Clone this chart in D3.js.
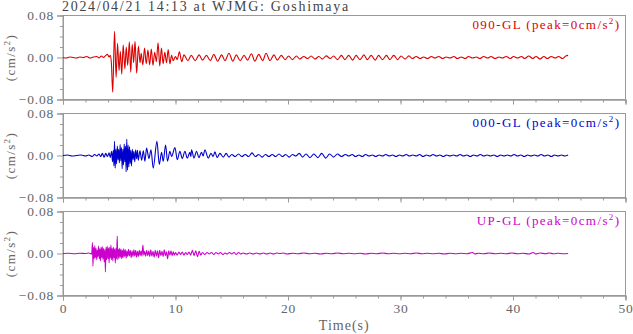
<!DOCTYPE html>
<html>
<head>
<meta charset="utf-8">
<script src="https://cdn.jsdelivr.net/npm/d3@7"></script>
<style>
body { margin: 0; background: #fff; }
svg { display: block; font-family: "Liberation Serif", "DejaVu Serif", serif; }
</style>
</head>
<body>
<div id="chart"></div>
<script>
const title = '2024/04/21 14:13 at WJMG: Goshimaya'
const components = ['090-GL', '000-GL', 'UP-GL']
const peaks = [0, 0, 0]
const colors = ['#dc0000', '#0000cc', '#cc00cc']
const timeTicks = [0, 10, 20, 30, 40, 50]
const accTicks = [-0.08, 0.00, 0.08]

// [time (s), acceleration (cm/s2)], peak to peak
const ew = [[0,0],[0.3,-0.001],[0.6,0.001],[0.9,0],[1.2,-0.001],[1.5,0.001],[1.8,0],[2.1,0.002],[2.4,-0.001],[2.7,0.001],[3.0,0.002],[3.2,-0.001],[3.4,0.003],[3.6,0],[3.8,0.004],[3.95,0.006],[4.1,0.001],[4.2,0.004],[4.3,-0.01],
  [4.42,-0.066],[4.58,0.05],[4.72,-0.038],[4.85,0.027],[4.98,-0.025],[5.1,0.012],[5.22,-0.032],[5.35,0.024],[5.5,-0.022],[5.62,0.02],[5.75,-0.015],[5.9,0.03],[6.02,-0.028],[6.15,0.025],[6.28,-0.01],[6.4,0.031],[6.55,-0.03],[6.7,0.022],[6.85,-0.01],[6.95,0.008],[7.1,-0.014],[7.25,0.018],[7.4,-0.012],[7.55,0.014],[7.7,-0.014],[7.85,0.016],[8.0,-0.015],[8.15,0.01],[8.3,-0.008],[8.45,0.028],[8.6,-0.016],[8.75,0.018],[8.9,-0.012],[9.05,0.01],[9.2,-0.01],[9.35,0.015],[9.5,-0.012],[9.65,0.004],[9.8,-0.006],[10.0,0.002],[10.15,-0.004],[10.35,0.011],[10.55,-0.008],
  [10.75,0.005],[11.1,-0.006],[11.4,0.004],[11.75,-0.006],[12.1,0.005],[12.4,-0.005],[12.75,0.004],[13.1,-0.006],[13.4,0.006],[13.75,-0.007],[14.1,0.005],[14.4,-0.006],[14.75,0.008],[15.1,-0.007],[15.4,0.005],[15.75,-0.006],[16.1,0.004],[16.4,-0.005],[16.75,0.007],[17.05,-0.007],[17.4,0.006],[17.75,-0.006],[18.05,0.008],[18.4,-0.006],[18.75,0.005],[19.05,-0.005],[19.4,0.004],[19.75,-0.004],[20.05,0.003],[20.4,-0.004],[20.75,0.003],[21.05,-0.003],[21.4,0.002],[21.75,-0.002],[22.05,0.003],[22.4,-0.003],[22.75,0.002],[23.05,-0.003],[23.4,0.003],[23.75,-0.002],[24.05,0.003],[24.4,-0.004],[24.75,0.004],[25.05,-0.004],[25.4,0.004],[25.75,-0.005],[26.05,0.004],[26.4,-0.004],[26.75,0.005],[27.05,-0.004],[27.4,0.004],[27.75,-0.005],[28.05,0.004],[28.4,-0.004],[28.75,0.004],[29.05,-0.004],[29.4,0.004],[29.75,-0.004],[30.05,0.003],[30.4,-0.003],[30.75,0.003],[31.05,-0.002],[31.4,0.002],[31.75,-0.002],[32.05,0.001],[32.4,-0.002],[32.75,0.002],[33.05,-0.001],[33.4,0.002],[33.75,-0.002],[34.05,0.001],[34.4,-0.001],[34.75,0.002],[35.05,-0.002],[35.4,0.001],[35.75,-0.002],[36.05,0.002],[36.4,-0.001],[36.75,0.001],[37.05,-0.002],[37.4,0.002],[37.75,-0.001],[38.05,0.002],[38.4,-0.002],[38.75,0.001],[39.05,-0.001],[39.4,0.002],[39.75,-0.002],[40.05,0.002],[40.4,-0.001],[40.75,0.002],[41.05,-0.002],[41.4,0.003],[41.75,-0.002],[42.05,0.002],[42.4,-0.003],[42.75,0.002],[43.05,-0.002],[43.4,0.002],[43.75,-0.001],[44.05,0.002],[44.4,-0.002],[44.7,0.003],[44.9,0.004]]

const ns = [[0,0],[0.4,0.001],[0.8,-0.001],[1.2,0],[1.6,0.001],[2.0,-0.001],[2.3,0.001],[2.6,-0.002],[2.8,0.002],[3.0,-0.001],[3.2,0.003],[3.35,-0.002],[3.5,0.004],[3.65,-0.003],[3.8,0.004],[3.95,-0.002],[4.1,0.005],[4.2,-0.004],[4.32,0.008],
  [4.4,-0.012],[4.47,0.01],[4.53,-0.02],[4.58,0.027],[4.64,-0.024],[4.7,0.012],[4.76,-0.016],[4.83,0.018],[4.89,-0.008],[4.95,0.012],[5.01,-0.014],[5.08,0.021],[5.14,-0.01],[5.2,0.015],[5.26,-0.025],[5.32,0.012],[5.38,-0.018],[5.44,0.022],[5.5,-0.012],[5.56,0.018],[5.61,-0.031],[5.67,0.031],[5.73,-0.028],[5.79,0.02],[5.85,-0.022],[5.91,0.017],[5.97,-0.015],[6.03,0.01],[6.09,-0.02],[6.16,0.012],[6.23,-0.008],[6.3,0.008],[6.38,-0.012],[6.46,0.011],[6.54,-0.006],[6.62,0.01],[6.69,-0.009],[6.84,0.009],[6.99,-0.009],[7.14,0.009],[7.28,-0.011],[7.43,0.014],[7.64,-0.006],[7.82,0.011],[8.02,-0.024],[8.35,0.027],[8.56,-0.017],[8.76,0.006],[8.91,-0.011],[9.12,0.02],[9.29,-0.011],[9.5,0.008],[9.65,-0.002],[9.95,0.015],[10.16,-0.008],[10.39,0.008],[10.6,-0.006],[10.84,0.008],[11.04,-0.005],[11.28,0.006],[11.36,-0.002],[11.43,0.011],[11.64,-0.005],[11.87,0.008],[12.08,-0.004],[12.31,0.006],[12.46,-0.001],[12.61,0.011],[12.91,-0.005],
  [13.15,0.004],[13.35,-0.002],[13.5,0.007],[13.7,-0.004],[13.95,0.004],[14.25,-0.003],[14.5,0.004],[14.75,-0.003],[15.0,0.002],[15.3,-0.002],[15.6,0.003],[15.9,-0.002],[16.2,0.002],[16.5,-0.002],[16.8,0.005],[17.1,-0.002],[17.4,0.002],[17.7,-0.003],[18.0,0.002],[18.3,-0.002],[18.6,0.002],[18.9,-0.002],[19.2,0.003],[19.5,-0.002],[19.8,0.002],[20.1,-0.003],[20.4,0.002],[20.7,-0.001],[21.0,0.004],[21.3,-0.003],[21.6,0.003],[21.95,-0.004],[22.3,0.003],[22.65,-0.004],[23.0,0.004],[23.35,-0.005],[23.7,0.003],[24.05,-0.003],[24.4,0.003],[24.75,-0.002],[25.1,0.002],[25.4,-0.001],[25.7,0.002],[26.0,-0.002],[26.3,0.001],[26.6,-0.002],[26.9,0.002],[27.2,-0.001],[27.5,0.001],[27.8,-0.002],[28.1,0.001],[28.4,-0.001],[28.7,0.002],[29.0,-0.001],[29.3,0.001],[29.6,-0.002],[29.9,0.001],[30.2,-0.001],[30.5,0.002],[30.8,-0.001],[31.1,0.001],[31.4,-0.001],[31.7,0.002],[32.0,-0.002],[32.3,0.001],[32.6,-0.001],[32.9,0.002],[33.2,-0.001],[33.5,0.001],[33.8,-0.002],[34.1,0.001],[34.4,-0.001],[34.7,0.001],[35.0,-0.001],[35.3,0.002],[35.6,-0.001],[35.9,0.001],[36.2,-0.002],[36.5,0.001],[36.8,-0.001],[37.1,0.002],[37.4,-0.001],[37.7,0.001],[38.0,-0.001],[38.3,0.001],[38.6,-0.002],[38.9,0.001],[39.2,-0.001],[39.5,0.001],[39.8,-0.001],[40.1,0.002],[40.4,-0.001],[40.7,0.001],[41.0,-0.002],[41.3,0.001],[41.6,-0.001],[41.9,0.001],[42.2,-0.001],[42.5,0.002],[42.8,-0.001],[43.1,0.001],[43.4,-0.002],[43.7,0.001],[44.0,-0.001],[44.3,0.001],[44.6,-0.001],[44.9,0.001]]

const ud = [[0,0],[0.5,0.0005],[1.0,-0.0005],[1.5,0.0005],[2.0,0],[2.3,0.001],[2.55,-0.001],
  [2.62,0.021],[2.66,-0.024],[2.72,0.012],[2.78,-0.01],[2.83,0.015],[2.88,-0.008],[2.94,0.01],[3.0,-0.012],[3.05,0.006],[3.1,-0.006],[3.16,0.014],[3.22,-0.01],[3.27,0.009],[3.32,-0.014],[3.38,0.012],[3.43,-0.008],[3.49,0.013],[3.54,-0.011],[3.6,0.01],[3.66,-0.016],[3.72,0.008],[3.77,-0.035],[3.82,0.012],[3.88,-0.012],[3.93,0.014],[3.99,-0.01],[4.04,0.011],[4.1,-0.018],[4.15,0.012],[4.21,-0.009],[4.26,0.016],[4.32,-0.012],[4.37,0.01],[4.43,-0.014],[4.48,0.012],[4.54,-0.008],[4.6,0.009],[4.65,-0.018],[4.71,0.01],[4.76,-0.01],[4.82,0.033],[4.87,-0.012],[4.93,0.008],[4.98,-0.009],[5.04,0.01],[5.1,-0.007],[5.16,0.008],[5.22,-0.01],[5.28,0.006],[5.34,-0.008],[5.4,0.009],[5.47,-0.006],[5.54,0.007],[5.61,-0.009],[5.68,0.005],[5.75,-0.006],[5.83,0.008],[5.9,-0.005],[5.98,0.006],[6.06,-0.008],[6.14,0.005],[6.22,-0.006],[6.3,0.007],[6.38,-0.005],[6.46,0.006],[6.54,-0.007],[6.62,0.004],[6.7,-0.006],[6.78,0.006],[6.86,-0.004],[6.94,0.005],[7.02,-0.005],[7.1,0.016],[7.18,-0.003],[7.26,0.004],[7.35,-0.005],[7.44,0.006],[7.53,-0.004],[7.62,0.005],[7.71,-0.006],[7.8,0.007],[7.9,-0.005],[8.0,0.004],[8.1,-0.007],[8.2,0.006],[8.3,-0.005],[8.4,0.005],[8.5,-0.008],[8.6,0.006],[8.7,-0.004],[8.8,0.004],[8.9,-0.006],[9.0,0.007],[9.1,-0.004],[9.2,0.003],[9.3,-0.01],[9.4,0.005],[9.5,-0.003],[9.6,0.005],[9.7,-0.004],[9.8,0.003],[9.9,-0.003],[10.0,0.002],[10.15,-0.003],[10.3,0.003],[10.45,-0.002],[10.6,0.003],[10.75,-0.003],[10.9,0.002],[11.05,-0.002],[11.2,0.003],[11.35,-0.003],[11.5,0.006],[11.65,-0.004],[11.8,0.005],[11.95,-0.006],[12.1,0.004],[12.25,-0.003],[12.4,0.002],[12.6,-0.002],[12.8,0.002],[13.0,-0.001],[13.2,0.002],[13.4,-0.002],[13.6,0.002],[13.8,-0.001],[14.0,0.002],[14.2,-0.002],[14.4,0.001],[14.6,-0.001],[14.8,0.002],[15.0,-0.001],[15.2,0.002],[15.4,-0.002],[15.6,0.002],[15.8,-0.001],[16.0,0.001],[16.3,-0.001],[16.6,0.001],[16.9,-0.001],[17.2,0.001],[17.5,-0.001],[17.8,0.001],[18.1,-0.001],[18.4,0.001],[18.7,-0.001],[19.0,0.001],[19.3,0],[19.6,0.001],[19.9,-0.001],
  [20.4,0.0005],[20.9,-0.0005],[21.4,0.001],[21.9,-0.0005],[22.4,0.0005],[22.9,-0.001],[23.4,0.0005],[23.9,-0.0005],[24.4,0.001],[24.9,-0.0005],[25.4,0.0005],[25.9,-0.0005],[26.4,0.0005],[26.9,-0.001],[27.4,0.0005],[27.9,-0.0005],[28.4,0.001],[28.9,-0.0005],[29.4,0.0005],[29.9,-0.0005],[30.4,0.0005],[30.9,-0.0005],[31.4,0.001],[31.9,-0.0005],[32.4,0.0005],[32.9,-0.0005],[33.4,0.0005],[33.9,-0.001],[34.4,0.0005],[34.9,-0.0005],[35.4,0.0005],[35.9,-0.0005],[36.4,0.002],[36.6,-0.001],[36.9,0.0005],[37.4,-0.0005],[37.9,0.001],[38.4,-0.0005],[38.9,0.0005],[39.4,-0.0005],[39.9,0.001],[40.4,-0.0005],[40.9,0.0005],[41.4,-0.001],[41.8,0.002],[42.0,-0.001],[42.4,0.001],[42.9,-0.0005],[43.2,0.001],[43.6,-0.0005],[44.0,0.0005],[44.5,-0.0005],[44.9,0]]

const traces = [ew, ns, ud]

const width = 633
const height = 334
const margin = { left: 63, right: 7.5 }
const panelTop = 15.5
const panelH = 84
const panelStep = 98
const spacing = '1.4px'

const svg = d3.select('#chart')
  .append('svg')
  .attr('width', width)
  .attr('height', height)

const x = d3.scaleLinear()
  .domain([0, 50])
  .range([margin.left, width - margin.right])

svg.append('text')
  .attr('x', margin.left - 1)
  .attr('y', 11)
  .attr('fill', '#444')
  .style('font-size', '14px')
  .style('letter-spacing', '1.7px')
  .text(title)

traces.forEach((data, i) => {
  const top = panelTop + i * panelStep
  const y = d3.scaleLinear()
    .domain([-0.08, 0.08])
    .range([top + panelH, top])

  const g = svg.append('g')

  // frame
  g.append('rect')
    .attr('x', x(0))
    .attr('y', top)
    .attr('width', x(50) - x(0))
    .attr('height', panelH)
    .attr('fill', 'none')
    .attr('stroke', '#999')
    .attr('stroke-width', 1)

  // minor + major ticks on the bottom
  const bottomMinor = d3.axisBottom(x).tickValues(d3.range(0, 51, 2)).tickSize(3).tickFormat('')
  const bottomMajor = d3.axisBottom(x).tickValues(timeTicks).tickSize(5)
    .tickFormat(i == 2 ? d3.format('d') : '')
  g.append('g').attr('transform', `translate(0,${top + panelH})`).call(bottomMinor)
  g.append('g').attr('transform', `translate(0,${top + panelH})`).call(bottomMajor)

  const leftMinor = d3.axisLeft(y).tickValues([-0.06, -0.04, -0.02, 0.02, 0.04, 0.06]).tickSize(3).tickFormat('')
  const leftMajor = d3.axisLeft(y).tickValues(accTicks).tickSize(6).tickFormat(d3.format('.2f'))
  g.append('g').attr('transform', `translate(${x(0)},0)`).call(leftMinor)
  g.append('g').attr('transform', `translate(${x(0)},0)`).call(leftMajor)

  g.selectAll('.domain').attr('stroke', '#999')
  g.selectAll('.tick line').attr('stroke', '#999')
  g.selectAll('.tick text')
    .attr('fill', '#666')
    .style('font-family', '"Liberation Serif", serif')
    .style('font-size', '13.5px')
    .style('letter-spacing', '0.8px')

  // trace
  const line = d3.line()
    .x(d => x(d[0]))
    .y(d => y(d[1]))
    .curve(d3.curveMonotoneX)

  g.append('path')
    .datum(data)
    .attr('d', line)
    .attr('fill', 'none')
    .attr('stroke', colors[i])
    .attr('stroke-width', 1.1)
    .attr('stroke-linejoin', 'round')

  // component label
  const lab = g.append('text')
    .attr('x', x(50) - 5)
    .attr('y', top + 13)
    .attr('text-anchor', 'end')
    .attr('fill', colors[i])
    .style('font-size', '13px')
    .style('letter-spacing', spacing)
  lab.append('tspan').text(`${components[i]} (peak=${peaks[i]}cm/s`)
  lab.append('tspan').attr('dy', -5).style('font-size', '9px').text('2')
  lab.append('tspan').attr('dy', 5).text(')')

  // y label
  const yl = g.append('text')
    .attr('transform', `translate(15,${top + panelH / 2}) rotate(-90)`)
    .attr('text-anchor', 'middle')
    .attr('fill', '#666')
    .style('font-size', '13px')
    .style('letter-spacing', spacing)
  yl.append('tspan').text('(cm/s')
  yl.append('tspan').attr('dy', -5).style('font-size', '9px').text('2')
  yl.append('tspan').attr('dy', 5).text(')')
})

svg.append('text')
  .attr('x', (x(0) + x(50)) / 2)
  .attr('y', 330)
  .attr('text-anchor', 'middle')
  .attr('fill', '#666')
  .style('font-size', '14px')
  .style('letter-spacing', '1px')
  .text('Time(s)')
</script>
</body>
</html>
